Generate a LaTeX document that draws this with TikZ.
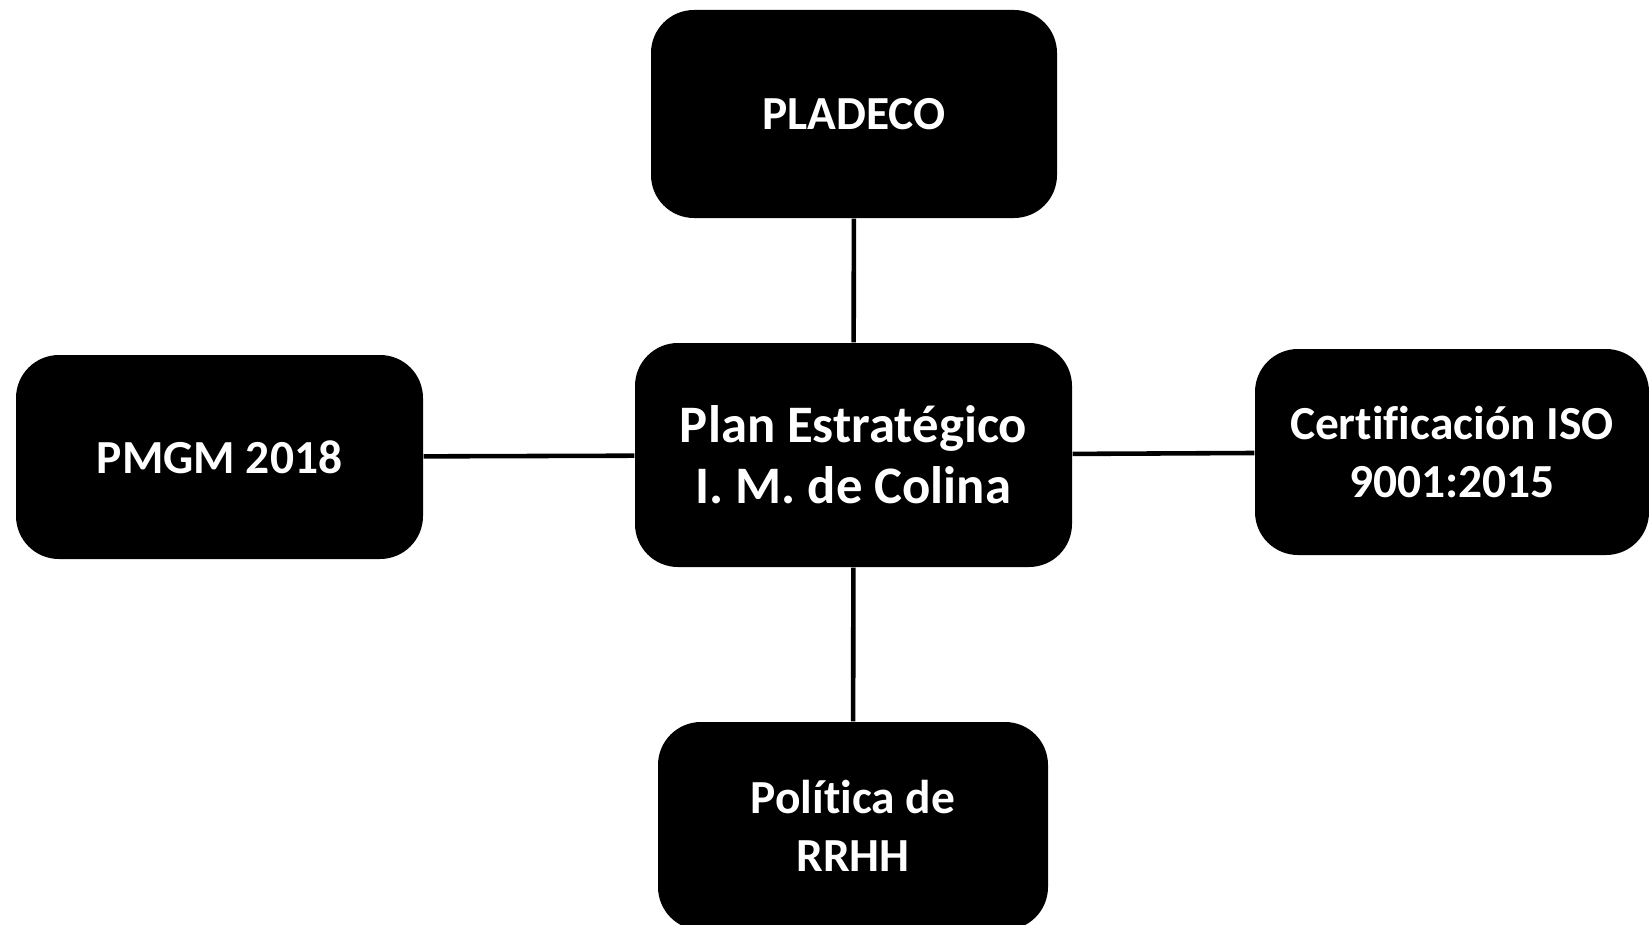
\documentclass[tikz,border=0pt]{standalone}
\usepackage{fontspec}
\setmainfont[Ligatures=NoCommon]{Carlito}
\tikzset{
  box/.style={fill=black, text=white, rounded corners=4.3mm, align=center, inner sep=0pt,
    font=\bfseries\fontsize{13.5}{16.5}\selectfont},
  link/.style={line width=1.3pt}
}
\begin{document}
\begin{tikzpicture}
                \useasboundingbox (0,0) rectangle (16.49,-9.24);
                \node[box, minimum width=4.06cm, minimum height=2.08cm] (pladeco) at (8.54,-1.14) {PLADECO};
                \node[box, minimum width=4.07cm, minimum height=2.04cm] (pmgm) at (2.195,-4.57) {PMGM 2018};
                \node[box, minimum width=4.37cm, minimum height=2.24cm, font=\bfseries\fontsize{15}{17.4}\selectfont] (plan) at (8.535,-4.55) {Plan Estratégico\\I. M. de Colina};
                \node[box, minimum width=3.94cm, minimum height=2.06cm] (iso) at (14.52,-4.52) {Certificación ISO\\9001:2015};
                \node[box, minimum width=3.90cm, minimum height=2.08cm] (rrhh) at (8.53,-8.26) {Política de\\RRHH};

                \draw[link] (pladeco) to (plan); \draw[link] (plan) to (rrhh);
                \draw[link] (pmgm) to (plan); \draw[link] (plan) to (iso);
            \end{tikzpicture}
\end{document}
